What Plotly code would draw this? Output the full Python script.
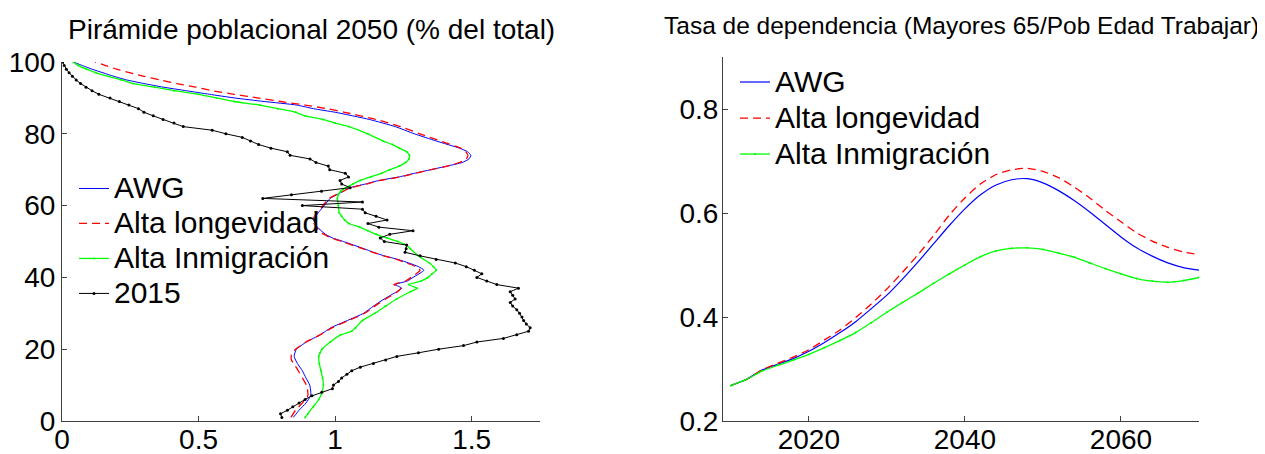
import plotly.graph_objects as go

W, H = 1265, 454
OFF = 8  # page offset of the figure inside the browser window

# ---------------- Left panel: population pyramid 2050 (% of total) ----------------
awg_age = [1, 3, 5, 7, 8, 10, 12, 14, 16, 18, 20, 22, 24, 25, 26, 28, 30, 32, 34, 36, 37, 38, 39, 40,
           42, 43, 44, 45, 46, 47, 48, 50, 51, 52, 54, 56, 58, 60, 62, 64, 65, 66, 67, 68, 69, 70,
           71, 72, 73, 74, 75, 76, 78, 80, 82, 84, 86, 87, 88, 89, 90, 91, 92, 93, 94, 95, 96, 97,
           98, 99, 100]
awg_pct = [0.847, 0.868, 0.893, 0.910, 0.911, 0.907, 0.893, 0.880, 0.862, 0.850, 0.858, 0.895, 0.945,
           0.965, 0.985, 1.045, 1.104, 1.140, 1.180, 1.225, 1.244, 1.220, 1.265, 1.285, 1.325, 1.305,
           1.270, 1.230, 1.180, 1.140, 1.105, 1.030, 0.990, 0.965, 0.935, 0.922, 0.938, 0.960, 0.982,
           1.030, 1.055, 1.110, 1.160, 1.235, 1.290, 1.350, 1.410, 1.465, 1.490, 1.497, 1.485, 1.455,
           1.370, 1.290, 1.220, 1.125, 1.000, 0.920, 0.860, 0.740, 0.630, 0.540, 0.455, 0.370, 0.300,
           0.237, 0.190, 0.150, 0.110, 0.075, 0.041]

lon_age = [1, 3, 5, 7, 8, 10, 12, 14, 16, 17, 18, 19, 20, 22, 24, 26, 28, 30, 32, 34, 36, 37, 38, 39,
           40, 42, 43, 44, 45, 46, 47, 48, 50, 51, 52, 54, 56, 58, 60, 62, 64, 65, 66, 67, 68, 69, 70,
           71, 72, 73, 74, 75, 76, 78, 80, 82, 84, 86, 87, 88, 89, 90, 91, 92, 93, 94, 95, 96, 97,
           98, 99, 100]
lon_pct = [0.838, 0.855, 0.880, 0.900, 0.900, 0.895, 0.880, 0.865, 0.848, 0.840, 0.839, 0.842, 0.855,
           0.893, 0.945, 0.990, 1.050, 1.108, 1.145, 1.185, 1.228, 1.240, 1.215, 1.258, 1.278, 1.311,
           1.295, 1.262, 1.225, 1.178, 1.138, 1.100, 1.025, 0.985, 0.958, 0.930, 0.918, 0.933, 0.955,
           0.978, 1.030, 1.058, 1.115, 1.165, 1.240, 1.295, 1.352, 1.410, 1.455, 1.480, 1.486, 1.478,
           1.460, 1.385, 1.310, 1.240, 1.150, 1.035, 0.970, 0.890, 0.800, 0.715, 0.630, 0.550, 0.490,
           0.420, 0.360, 0.300, 0.250, 0.200, 0.160, 0.121]

inm_age = [1, 2, 4, 6, 8, 10, 12, 14, 16, 18, 19, 20, 22, 24, 25, 26, 28, 30, 32, 34, 36, 37, 38, 39,
           40, 41, 42, 43, 44, 46, 48, 49, 50, 51, 52, 53, 54, 55, 56, 57, 58, 60, 62, 63, 64, 65, 66,
           67, 68, 69, 70, 71, 72, 73, 74, 75, 76, 77, 78, 80, 82, 83, 84, 85, 86, 87, 88, 89, 90, 91,
           92, 93, 94, 95, 96, 97, 98, 99, 100]
inm_pct = [0.890, 0.900, 0.920, 0.940, 0.952, 0.957, 0.954, 0.948, 0.942, 0.940, 0.945, 0.952, 0.982,
           1.020, 1.060, 1.075, 1.100, 1.145, 1.185, 1.225, 1.275, 1.300, 1.269, 1.315, 1.340, 1.355,
           1.370, 1.360, 1.345, 1.305, 1.275, 1.262, 1.230, 1.190, 1.150, 1.120, 1.090, 1.050, 1.035,
           1.024, 1.015, 1.012, 1.008, 1.012, 1.020, 1.040, 1.065, 1.092, 1.130, 1.170, 1.200, 1.235,
           1.258, 1.270, 1.272, 1.262, 1.235, 1.210, 1.175, 1.120, 1.050, 1.000, 0.955, 0.890, 0.855,
           0.790, 0.725, 0.630, 0.565, 0.500, 0.410, 0.340, 0.260, 0.220, 0.170, 0.125, 0.090, 0.060,
           0.041]

y2015_age = list(range(1, 101))
y2015_pct = [0.805, 0.800, 0.825, 0.845, 0.868, 0.890, 0.915, 0.951, 0.990, 0.994,
             1.012, 1.024, 1.043, 1.061, 1.092, 1.140, 1.185, 1.226, 1.305, 1.379,
             1.470, 1.519, 1.616, 1.665, 1.708, 1.714, 1.700, 1.690, 1.684, 1.675,
             1.665, 1.650, 1.641, 1.659, 1.650, 1.641, 1.671, 1.592, 1.555, 1.519,
             1.537, 1.510, 1.480, 1.440, 1.370, 1.311, 1.256, 1.260, 1.262, 1.180,
             1.165, 1.200, 1.285, 1.160, 1.120, 1.190, 1.150, 1.110, 1.100, 0.880,
             1.100, 0.735, 0.840, 0.950, 1.055, 1.024, 1.018, 1.049, 1.037, 0.980,
             0.975, 0.930, 0.908, 0.835, 0.825, 0.765, 0.720, 0.690, 0.660, 0.600,
             0.550, 0.444, 0.410, 0.370, 0.334, 0.300, 0.280, 0.245, 0.210, 0.176,
             0.135, 0.110, 0.088, 0.068, 0.052, 0.038, 0.026, 0.016, 0.008, 0.002]

# ---------------- Right panel: dependency ratio ----------------
years = list(range(2010, 2071, 2))
dep_awg = [0.268, 0.280, 0.298, 0.309, 0.320, 0.334, 0.351, 0.370, 0.391, 0.416, 0.442, 0.473, 0.506,
           0.541, 0.576, 0.608, 0.635, 0.654, 0.664, 0.666, 0.658, 0.643, 0.624, 0.602, 0.578, 0.554,
           0.533, 0.517, 0.504, 0.495, 0.490]
dep_lon = [0.268, 0.280, 0.298, 0.311, 0.323, 0.337, 0.356, 0.375, 0.399, 0.425, 0.454, 0.486, 0.520,
           0.557, 0.596, 0.629, 0.656, 0.674, 0.683, 0.686, 0.680, 0.668, 0.650, 0.629, 0.605, 0.583,
           0.562, 0.546, 0.534, 0.525, 0.520]
dep_inm = [0.268, 0.280, 0.296, 0.307, 0.317, 0.328, 0.341, 0.355, 0.370, 0.389, 0.409, 0.428, 0.446,
           0.465, 0.483, 0.500, 0.516, 0.527, 0.532, 0.533, 0.530, 0.523, 0.515, 0.504, 0.493, 0.483,
           0.474, 0.469, 0.467, 0.470, 0.476]

names = ["AWG", "Alta longevidad", "Alta Inmigración", "2015"]
colors = {"AWG": "#0000ff", "Alta longevidad": "#ff0000", "Alta Inmigración": "#00ff00", "2015": "#000000"}

left_title = "Pirámide poblacional 2050 (% del total)"
right_title = "Tasa de dependencia (Mayores 65/Pob Edad Trabajar)"

FONT = "Liberation Sans, Arial, Helvetica, sans-serif"
LEG_TEXT = 30  # rendered size of legend labels


def leg(name):
    return '<span style="font-size:%dpx">%s</span>' % (LEG_TEXT, name)


def px_x(p):
    return (p - OFF) / W


def px_y(p):
    return 1 - (p - OFF) / H


fig = go.Figure()

# Left traces
fig.add_trace(go.Scatter(x=awg_pct, y=awg_age, name=leg(names[0]), mode="lines",
                         line=dict(color=colors["AWG"], width=1, shape="spline", smoothing=0.5),
                         xaxis="x", yaxis="y", legend="legend"))
fig.add_trace(go.Scatter(x=lon_pct, y=lon_age, name=leg(names[1]), mode="lines",
                         line=dict(color=colors["Alta longevidad"], width=1.3, dash="8px,5px",
                                   shape="spline", smoothing=0.5),
                         xaxis="x", yaxis="y", legend="legend"))
fig.add_trace(go.Scatter(x=inm_pct, y=inm_age, name=leg(names[2]), mode="lines+markers",
                         line=dict(color=colors["Alta Inmigración"], width=1.3, shape="spline", smoothing=0.5),
                         marker=dict(size=2, color=colors["Alta Inmigración"]),
                         xaxis="x", yaxis="y", legend="legend"))
fig.add_trace(go.Scatter(x=y2015_pct, y=y2015_age, name=leg(names[3]), mode="lines+markers",
                         line=dict(color=colors["2015"], width=1),
                         marker=dict(size=3, color=colors["2015"]),
                         xaxis="x", yaxis="y", legend="legend"))

# Right traces
fig.add_trace(go.Scatter(x=years, y=dep_awg, name=leg(names[0]), mode="lines",
                         line=dict(color=colors["AWG"], width=1.2, shape="spline", smoothing=0.6),
                         xaxis="x2", yaxis="y2", legend="legend2"))
fig.add_trace(go.Scatter(x=years, y=dep_lon, name=leg(names[1]), mode="lines",
                         line=dict(color=colors["Alta longevidad"], width=1.3, dash="8px,5px",
                                   shape="spline", smoothing=0.6),
                         xaxis="x2", yaxis="y2", legend="legend2"))
fig.add_trace(go.Scatter(x=years, y=dep_inm, name=leg(names[2]), mode="lines+markers",
                         line=dict(color=colors["Alta Inmigración"], width=1.3, shape="spline", smoothing=0.6),
                         marker=dict(size=2, color=colors["Alta Inmigración"]),
                         xaxis="x2", yaxis="y2", legend="legend2"))

axis_common = dict(showline=True, linecolor="#404040", linewidth=1, ticks="inside", ticklen=5,
                   tickcolor="#404040", showgrid=False, zeroline=False, mirror=False,
                   automargin=False,
                   tickfont=dict(family=FONT, size=28, color="#000000"))

fig.update_layout(
    template="none",
    width=W, height=H,
    autosize=False,
    margin=dict(l=0, r=0, t=0, b=0, pad=0),
    paper_bgcolor="white", plot_bgcolor="white",
    font=dict(family=FONT, color="#000000"),
    xaxis=dict(domain=[px_x(62), px_x(540)], range=[0, 1.75], anchor="y",
               tickvals=[0, 0.5, 1, 1.5], ticktext=["0", "0.5", "1", "1.5"],
               ticklabelstandoff=-7, **axis_common),
    yaxis=dict(domain=[px_y(421), px_y(62)], range=[0, 100], anchor="x",
               tickvals=[0, 20, 40, 60, 80, 100], ticklabelstandoff=0, **axis_common),
    xaxis2=dict(domain=[px_x(723), px_x(1199)], range=[2009, 2070], anchor="y2",
                tickvals=[2020, 2040, 2060], ticklabelstandoff=-7, **axis_common),
    yaxis2=dict(domain=[px_y(421), px_y(57)], range=[0.2, 0.9], anchor="x2",
                tickvals=[0.2, 0.4, 0.6, 0.8], ticktext=["0.2", "0.4", "0.6", "0.8"],
                ticklabelstandoff=-2, **axis_common),
    legend=dict(x=px_x(74), y=px_y(166), xanchor="left", yanchor="top",
                bgcolor="rgba(0,0,0,0)", borderwidth=0,
                font=dict(family=FONT, size=24.6, color="#000000"), tracegroupgap=0),
    legend2=dict(x=px_x(735), y=px_y(59), xanchor="left", yanchor="top",
                 bgcolor="rgba(0,0,0,0)", borderwidth=0,
                 font=dict(family=FONT, size=25.4, color="#000000"), tracegroupgap=0),
    annotations=[
        dict(text=left_title, x=px_x(311), y=px_y(29), xref="paper", yref="paper",
             xanchor="center", yanchor="middle", showarrow=False,
             font=dict(family=FONT, size=28, color="#000000")),
        dict(text=right_title, x=px_x(961), y=px_y(26), xref="paper", yref="paper",
             xanchor="center", yanchor="middle", showarrow=False,
             font=dict(family=FONT, size=24.5, color="#000000")),
    ],
    showlegend=True,
)

fig.write_html("out.html")
